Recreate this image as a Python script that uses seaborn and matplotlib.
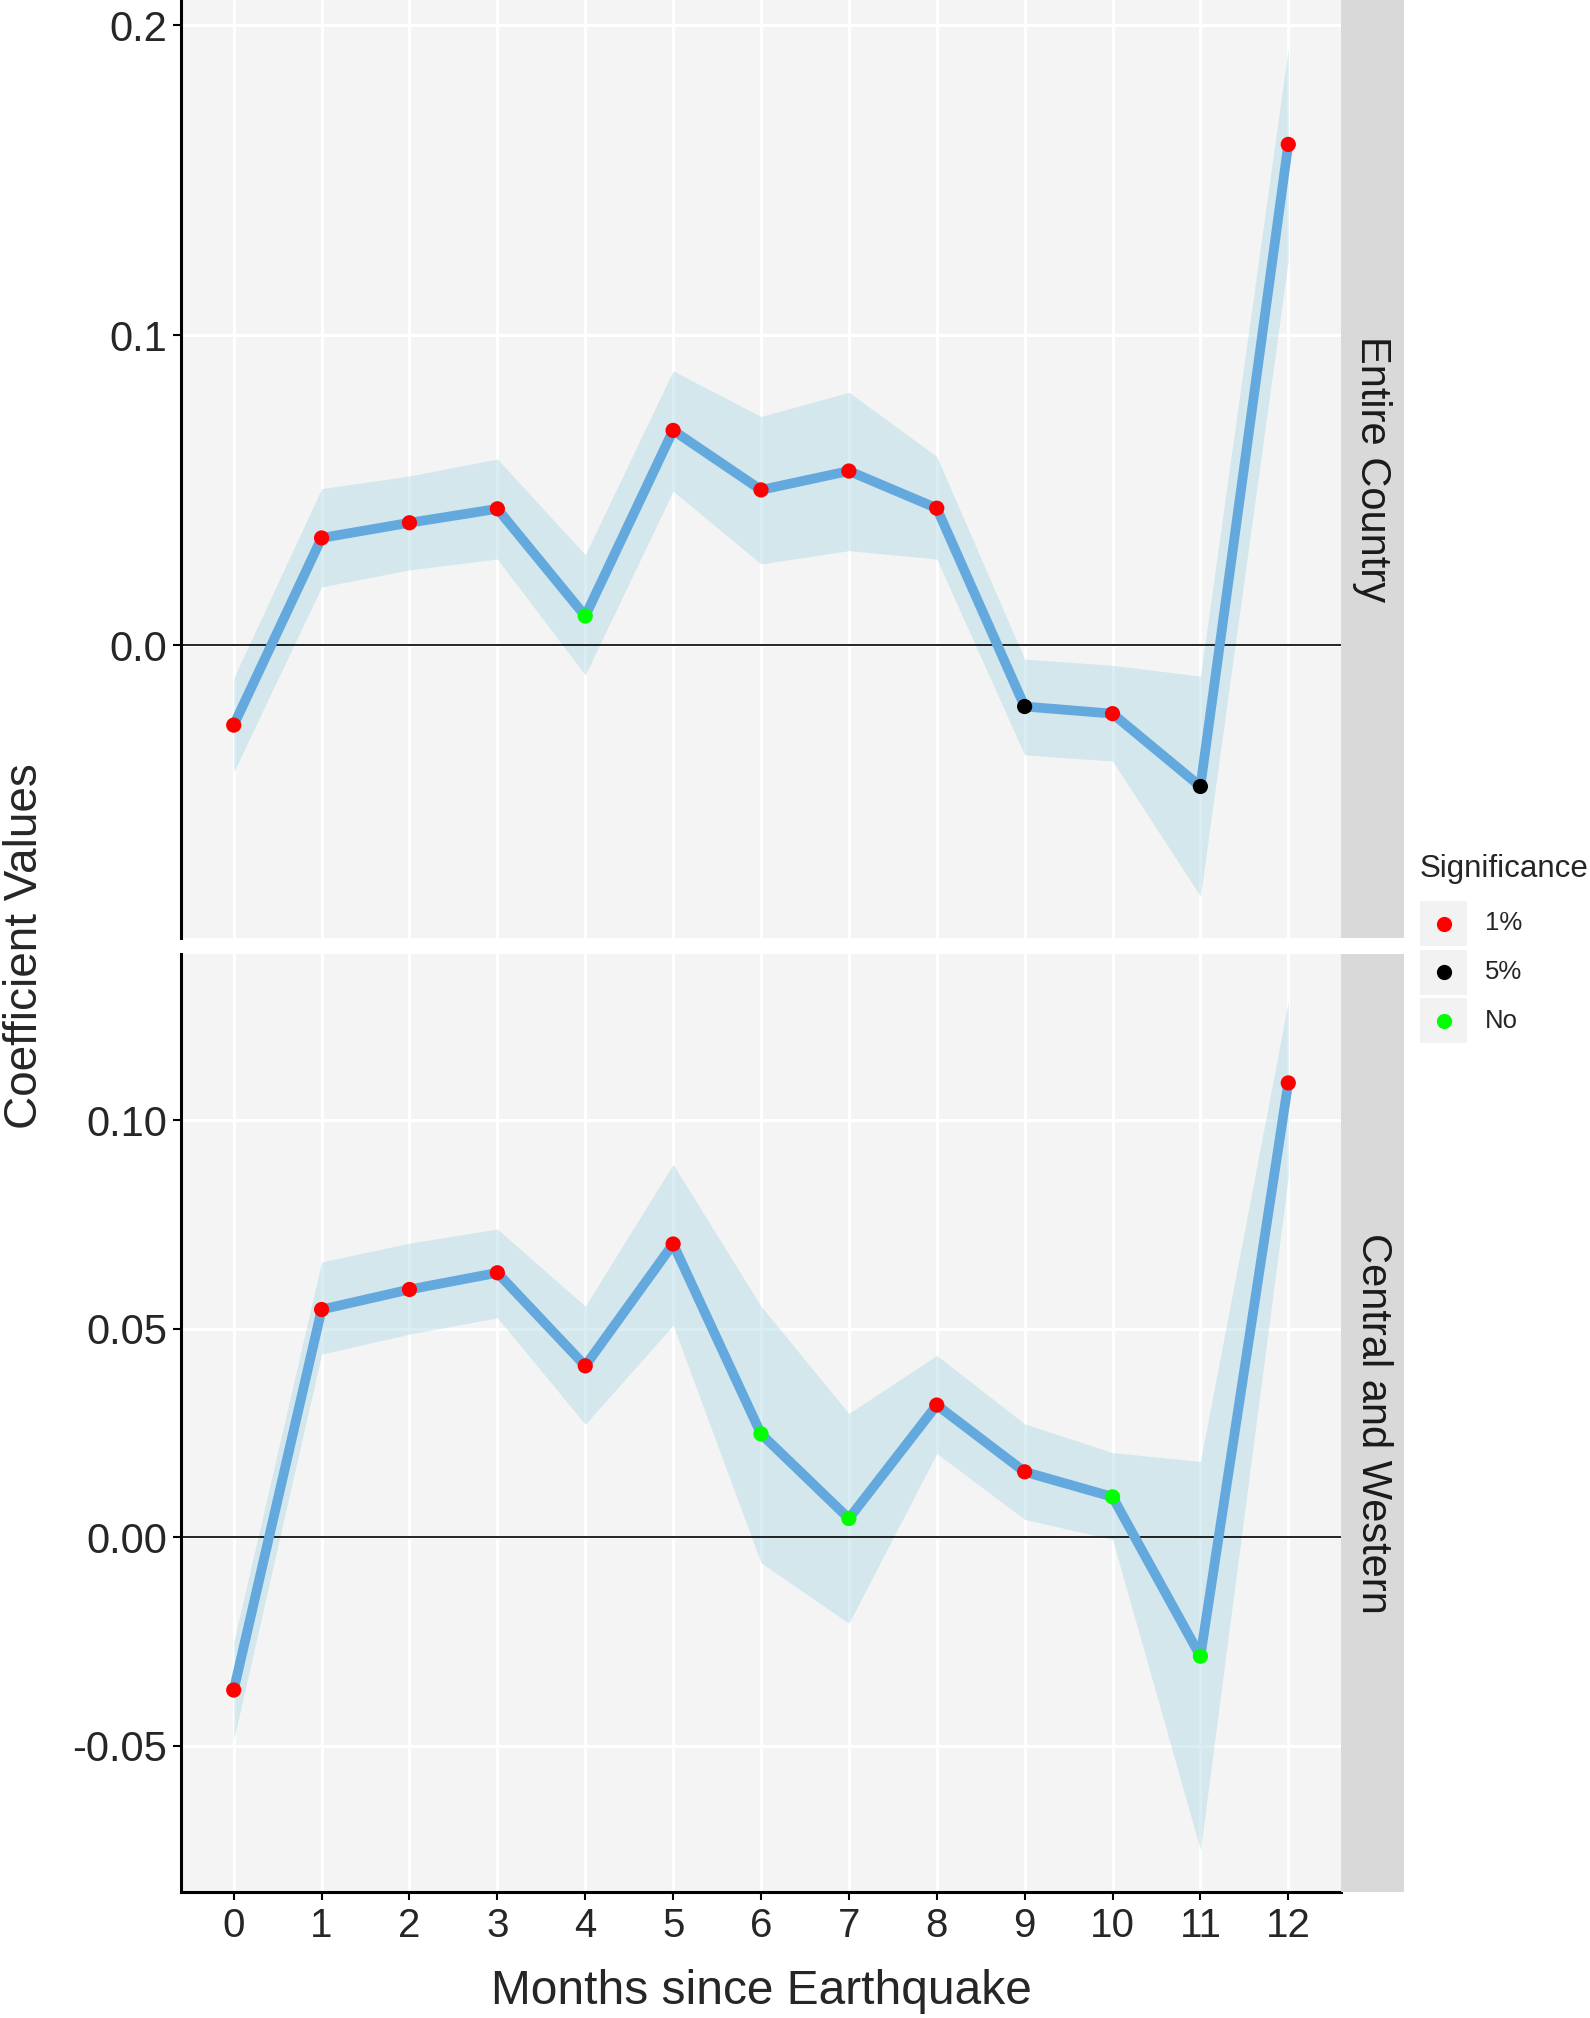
import matplotlib
matplotlib.use("Agg")
import matplotlib.pyplot as plt
import seaborn as sns
import pandas as pd
from matplotlib.patches import Rectangle

# values
months = list(range(13))

country_coef = [-0.0258, 0.0346, 0.0395, 0.0440, 0.0094, 0.0693, 0.0501,
                0.0562, 0.0442, -0.0198, -0.0221, -0.0456, 0.1616]
country_upper = [-0.0106, 0.0505, 0.0546, 0.0601, 0.0292, 0.0885, 0.0738,
                 0.0816, 0.0609, -0.0045, -0.0065, -0.0100, 0.1926]
country_lower = [-0.0409, 0.0188, 0.0243, 0.0278, -0.0096, 0.0497, 0.0262,
                 0.0305, 0.0278, -0.0354, -0.0374, -0.0810, 0.1241]
country_sig = ["1%", "1%", "1%", "1%", "No", "1%", "1%",
               "1%", "1%", "5%", "1%", "5%", "1%"]

cw_coef = [-0.0366, 0.0546, 0.0594, 0.0634, 0.0411, 0.0703, 0.0248,
           0.0045, 0.0317, 0.0157, 0.0097, -0.0285, 0.1089]
cw_upper = [-0.0251, 0.0660, 0.0705, 0.0739, 0.0554, 0.0894, 0.0554,
            0.0297, 0.0436, 0.0272, 0.0203, 0.0182, 0.1284]
cw_lower = [-0.0485, 0.0439, 0.0487, 0.0526, 0.0271, 0.0508, -0.0061,
            -0.0206, 0.0201, 0.0043, -0.0005, -0.0749, 0.0863]
cw_sig = ["1%", "1%", "1%", "1%", "1%", "1%", "No",
          "No", "1%", "1%", "No", "No", "1%"]

sig_levels = ["1%", "5%", "No"]
sig_colors = {"1%": "#FF0000", "5%": "#000000", "No": "#00FF00"}

panels = [
    ("Entire Country", country_coef, country_lower, country_upper, country_sig,
     [0.0, 0.1, 0.2], ["0.0", "0.1", "0.2"], (-0.0945, 0.2082)),
    ("Central and Western", cw_coef, cw_lower, cw_upper, cw_sig,
     [-0.05, 0.0, 0.05, 0.10], ["-0.05", "0.00", "0.05", "0.10"], (-0.0850, 0.1398)),
]

sns.set_style("white")
plt.rcParams["font.family"] = ["Liberation Sans", "DejaVu Sans"]

W, H = 1590, 2018
fig = plt.figure(figsize=(W / 100, H / 100), dpi=100)


def px_axes(l, t, r, b):
    return fig.add_axes([l / W, 1 - b / H, (r - l) / W, (b - t) / H])


line_col = "#64A9DE"
ribbon_col = "#ADD8E6"
panel_bg = "#F4F4F4"
strip_bg = "#D9D9D9"

boxes = [(0, 938), (954, 1892)]

for i, (name, coef, lo, hi, sig, yt, ytl, ylim) in enumerate(panels):
    top, bot = boxes[i]
    ax = px_axes(181, top, 1341, bot)
    df = pd.DataFrame({"month": months, "coef": coef, "lower": lo,
                       "upper": hi, "sig": sig})

    ax.set_facecolor(panel_bg)
    ax.fill_between(df["month"], df["lower"], df["upper"],
                    color=ribbon_col, alpha=0.45, lw=0, zorder=2)
    ax.axhline(0, color="black", lw=1.2, zorder=3)
    sns.lineplot(data=df, x="month", y="coef", ax=ax, color=line_col,
                 lw=7, zorder=4)
    sns.scatterplot(data=df, x="month", y="coef", hue="sig",
                    hue_order=sig_levels, palette=sig_colors, ax=ax,
                    s=120, linewidth=0, zorder=5, legend=False)

    ax.set_xlim(-0.6, 12.6)
    ax.set_ylim(*ylim)
    ax.set_xticks(months)
    ax.set_yticks(yt)
    ax.set_yticklabels(ytl)
    ax.grid(True, color="white", lw=2.2, zorder=1)
    ax.set_axisbelow(True)
    ax.set_xlabel("")
    ax.set_ylabel("")
    for s in ["top", "right", "bottom", "left"]:
        ax.spines[s].set_visible(False)
    ax.spines["left"].set_visible(True)
    ax.spines["left"].set_color("black")
    ax.spines["left"].set_linewidth(2.2)
    ax.tick_params(axis="y", length=6, width=1.5, color="black",
                   labelsize=30, pad=4, left=True)
    if i == 1:
        ax.spines["bottom"].set_visible(True)
        ax.spines["bottom"].set_color("black")
        ax.spines["bottom"].set_linewidth(2.2)
        ax.tick_params(axis="x", length=6, width=1.5, color="black",
                       labelsize=29, pad=5, bottom=True)
    else:
        ax.tick_params(axis="x", bottom=False, labelbottom=False)

    st = px_axes(1341, top, 1404, bot)
    st.set_facecolor(strip_bg)
    st.set_xticks([])
    st.set_yticks([])
    for s in st.spines.values():
        s.set_visible(False)
    st.text(0.5, 0.5, name, rotation=-90, ha="center", va="center",
            fontsize=30, color="#1A1A1A", transform=st.transAxes)

fig.text(761 / W, 1 - 1992 / H, "Months since Earthquake", ha="center",
         va="center", fontsize=34.5)
fig.text(25 / W, 1 - 946 / H, "Coefficient Values", ha="center",
         va="center", rotation=90, fontsize=33)

# legend
lg = px_axes(1420, 840, 1590, 1050)
lg.set_xlim(1420, 1590)
lg.set_ylim(1050, 840)
lg.axis("off")
lg.text(1420, 869, "Significance", ha="left", va="center", fontsize=22.5)
for k, lev in enumerate(sig_levels):
    y0 = 901 + k * 48.5
    lg.add_patch(Rectangle((1420, y0), 47, 45, color="#F2F2F2", lw=0))
    lg.scatter([1443.5], [y0 + 22.5], s=120, color=sig_colors[lev], lw=0)
    lg.text(1485, y0 + 22.5, lev, ha="left", va="center", fontsize=18.5)

fig.savefig("out.png", dpi=100)
